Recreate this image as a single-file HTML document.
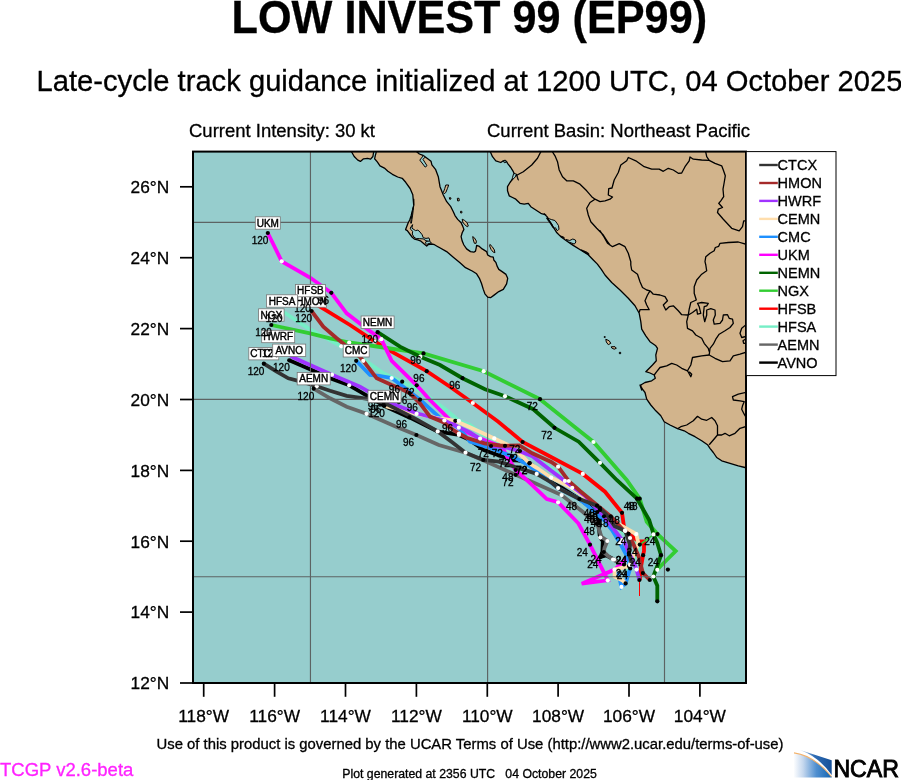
<!DOCTYPE html>
<html lang="en"><head><meta charset="utf-8"><title>LOW INVEST 99 (EP99)</title>
<style>
html,body{margin:0;padding:0;background:#fff;}
body{width:901px;height:780px;overflow:hidden;position:relative;font-family:"Liberation Sans",sans-serif;}
svg{position:absolute;left:0;top:0;}
text{font-family:"Liberation Sans",sans-serif;fill:#000;stroke:#000;stroke-width:0.3px;}
.t{position:absolute;white-space:nowrap;color:#000;line-height:1;}
</style></head><body>

<svg width="901" height="780" viewBox="0 0 901 780">
<defs><clipPath id="mc"><rect x="193.0" y="151.6" width="553.0" height="531.4"/></clipPath>
<linearGradient id="ng" x1="0" x2="1" y1="0" y2="0"><stop offset="0" stop-color="#ffffff"/><stop offset="0.25" stop-color="#c6d8ee"/><stop offset="0.6" stop-color="#4f8fd0"/><stop offset="1" stop-color="#1565b0"/></linearGradient>
<linearGradient id="ng2" x1="0" x2="1" y1="0" y2="0"><stop offset="0" stop-color="#c9dcf0"/><stop offset="0.45" stop-color="#2f6db5"/><stop offset="1" stop-color="#154f98"/></linearGradient>
</defs>
<rect x="193.0" y="151.6" width="553.0" height="531.4" fill="#96cdcd"/>
<g clip-path="url(#mc)">
<path d="M289.2 360.3 L310.0 369.2 L330.0 378.3 L349.2 385.3 L360.0 391.7 L384.4 406.0 L409.4 417.4 L437.5 431.4 L458.9 435.0 L468.8 439.4 L483.8 450.0 L506.2 458.0 L529.7 463.0 L551.2 482.3 L562.0 488.0 L579.4 499.0 L597.3 512.0 L598.2 518.5 L599.6 535.0 L600.3 537.6 L602.8 541.0 L602.4 551.7 L600.5 557.0 L606.0 555.4 L614.0 559.5 L620.0 562.7 L624.0 564.5" fill="none" stroke="#000000" stroke-width="3.8" stroke-linejoin="miter" stroke-linecap="butt"/>
<path d="M313.7 388.7 L330.0 398.3 L346.7 406.7 L366.6 413.8 L394.4 426.0 L416.4 435.0 L438.8 445.0 L465.5 452.7 L483.8 460.5 L515.7 474.8 L539.6 485.2 L561.6 495.1 L583.0 512.0 L592.2 520.3 L597.0 523.7 L601.5 536.9 L607.4 541.0 L604.5 548.0 L603.8 552.0 L608.0 556.0 L613.0 559.5 L620.0 563.5 L625.0 566.0" fill="none" stroke="#666666" stroke-width="3.8" stroke-linejoin="miter" stroke-linecap="butt"/>
<path d="M282.0 311.0 L308.3 328.3 L341.3 346.3 L366.7 361.7 L383.3 373.3 L402.2 381.7 L416.7 389.0 L430.0 398.0 L445.0 409.0 L458.8 420.8 L470.0 425.0 L482.0 434.0 L500.0 442.0 L520.0 451.0 L540.0 461.0 L555.0 471.0 L568.8 481.0 L580.0 490.0 L600.0 508.0 L618.0 528.0 L630.0 538.0 L639.8 544.6 L636.0 556.0 L630.0 565.0 L627.0 572.0" fill="none" stroke="#76eec6" stroke-width="3.8" stroke-linejoin="miter" stroke-linecap="butt"/>
<path d="M310.4 300.6 L320.0 306.7 L350.0 325.0 L375.0 341.7 L391.7 351.7 L426.7 371.2 L450.0 386.7 L472.8 403.0 L498.3 421.7 L522.6 442.0 L545.4 454.0 L582.8 473.9 L605.0 491.7 L622.0 512.8 L624.2 528.3 L625.0 530.4 L633.0 537.3 L638.8 541.3 L644.0 541.3 L644.0 551.1 L643.1 555.2 L641.1 566.1 L639.8 580.0" fill="none" stroke="#ff0000" stroke-width="3.8" stroke-linejoin="miter" stroke-linecap="butt"/>
<path d="M271.3 325.0 L310.0 333.3 L330.0 338.3 L349.2 342.5 L383.3 347.5 L423.5 353.4 L483.7 371.2 L540.0 399.2 L570.0 423.3 L593.5 442.0 L626.7 480.0 L639.7 498.7 L646.7 521.7 L657.5 534.1 L675.7 551.1 L660.7 566.0 L657.3 569.8" fill="none" stroke="#32cd32" stroke-width="3.8" stroke-linejoin="miter" stroke-linecap="butt"/>
<path d="M377.6 332.2 L400.0 346.7 L420.3 356.7 L440.0 365.0 L462.5 378.2 L485.0 389.2 L505.0 396.2 L533.3 409.2 L554.5 427.8 L578.7 441.7 L600.0 462.8 L616.7 480.0 L637.0 498.7 L649.2 520.0 L653.6 534.4 L657.3 543.0 L661.0 555.2 L657.3 566.0 L653.3 576.5 L657.3 585.7 L657.3 601.3" fill="none" stroke="#006400" stroke-width="3.8" stroke-linejoin="miter" stroke-linecap="butt"/>
<path d="M267.8 233.0 L281.7 261.3 L310.0 277.5 L331.3 292.8 L346.7 313.3 L366.7 328.7 L381.3 339.2 L391.7 360.8 L416.7 385.3 L430.0 400.0 L440.0 410.0 L458.0 428.0 L480.1 438.6 L501.9 446.8 L507.7 457.7 L515.7 470.0 L530.9 483.8 L546.8 499.0 L558.1 502.3 L578.3 523.3 L590.0 544.7 L607.8 580.3 L581.7 583.7 L614.6 569.6 L626.7 558.3" fill="none" stroke="#ff00ff" stroke-width="3.8" stroke-linejoin="miter" stroke-linecap="butt"/>
<path d="M356.2 360.8 L370.0 375.0 L379.2 375.8 L391.7 378.0 L403.3 386.7 L420.0 399.7 L440.0 418.0 L458.8 427.7 L470.0 441.7 L491.0 448.3 L512.0 456.2 L528.0 464.9 L545.4 478.0 L558.1 488.1 L579.4 499.0 L595.0 512.0 L604.0 520.0 L612.0 530.0 L620.0 543.0 L628.0 558.0 L630.2 568.4 L625.6 583.4 L621.5 586.9 L618.0 572.0" fill="none" stroke="#1e90ff" stroke-width="3.8" stroke-linejoin="miter" stroke-linecap="butt"/>
<path d="M384.4 406.0 L416.6 413.8 L440.0 418.5 L455.3 420.8 L470.0 427.2 L494.3 438.4 L508.0 445.0 L519.3 453.3 L529.4 463.3 L536.7 467.8 L551.2 477.7 L572.2 487.8 L585.9 498.3 L600.0 510.0 L620.0 525.0 L636.3 534.1 L638.3 543.0 L634.8 553.4 L629.0 566.1 L614.6 569.6 L614.6 576.5 L622.7 580.5 L625.6 583.4" fill="none" stroke="#ffdead" stroke-width="3.8" stroke-linejoin="miter" stroke-linecap="butt"/>
<path d="M278.2 346.5 L293.3 357.5 L332.0 374.7 L360.0 386.7 L381.0 399.0 L416.6 413.3 L444.4 420.5 L470.0 432.3 L491.0 446.0 L506.2 447.5 L519.0 451.0 L532.3 456.2 L551.2 470.7 L564.9 480.9 L585.0 496.0 L604.0 516.3 L610.0 524.3 L617.3 533.7 L622.0 540.0 L625.0 543.0 L629.0 553.4 L633.0 560.4 L636.5 569.6 L639.4 580.0" fill="none" stroke="#a033ff" stroke-width="3.8" stroke-linejoin="miter" stroke-linecap="butt"/>
<path d="M311.5 311.0 L323.3 326.7 L336.7 338.3 L345.0 345.0 L360.0 357.0 L363.3 360.8 L376.7 378.3 L391.7 385.0 L401.7 389.2 L409.5 393.0 L420.0 403.3 L430.0 416.6 L443.3 422.2 L453.3 430.0 L459.0 433.5 L466.6 437.7 L484.4 443.3 L500.0 445.5 L505.0 445.8 L519.3 445.4 L532.3 453.3 L551.2 462.0 L558.1 466.7 L568.6 480.9 L580.1 491.0 L597.5 505.5 L610.7 516.3 L623.3 530.0 L628.5 533.8 L633.0 543.0 L638.8 556.9 L642.9 573.1 L649.8 580.0" fill="none" stroke="#a52a2a" stroke-width="3.8" stroke-linejoin="miter" stroke-linecap="butt"/>
<path d="M263.8 363.7 L276.7 371.7 L288.3 378.3 L298.3 380.8 L316.7 386.2 L330.0 390.8 L346.7 395.8 L367.8 398.9 L383.6 402.5 L416.6 419.4 L437.7 431.4 L452.8 442.7 L465.5 452.7 L483.3 459.9 L498.8 461.6 L512.0 466.0 L530.0 471.6 L536.7 473.9 L551.2 482.3 L558.1 488.1 L579.4 499.0 L597.0 505.7 L606.7 515.0 L614.7 526.3 L625.3 531.0 L630.0 545.0 L629.0 553.0 L632.0 565.0" fill="none" stroke="#333333" stroke-width="3.8" stroke-linejoin="miter" stroke-linecap="butt"/>
<line x1="639.5" x2="639.5" y1="580" y2="596" stroke="#ff0000" stroke-width="1"/>
<line x1="639.8" x2="653" y1="544.6" y2="535" stroke="#32cd32" stroke-width="1.5"/>
<line x1="310.45" x2="310.45" y1="151.6" y2="683.0" stroke="#5c6363" stroke-width="1.15"/>
<line x1="487.60" x2="487.60" y1="151.6" y2="683.0" stroke="#5c6363" stroke-width="1.15"/>
<line x1="664.50" x2="664.50" y1="151.6" y2="683.0" stroke="#5c6363" stroke-width="1.15"/>
<line x1="193.0" x2="746.0" y1="222.30" y2="222.30" stroke="#5c6363" stroke-width="1.15"/>
<line x1="193.0" x2="746.0" y1="399.30" y2="399.30" stroke="#5c6363" stroke-width="1.15"/>
<line x1="193.0" x2="746.0" y1="576.70" y2="576.70" stroke="#5c6363" stroke-width="1.15"/>
<path d="M351.5 140.0 L351.5 151.7 L354.2 156.5 L357.8 160.1 L360.4 161.4 L363.5 158.8 L367.5 158.3 L370.6 159.2 L372.9 156.5 L373.7 151.7 L374.0 148.6 L376.2 148.6 L376.4 151.7 L375.3 155.7 L374.6 158.8 L377.3 161.9 L380.0 165.9 L384.4 168.1 L387.9 171.2 L392.4 174.3 L397.7 177.0 L402.2 178.3 L405.7 182.3 L410.1 188.5 L412.8 194.7 L413.7 205.0 L413.7 199.2 L413.9 204.9 L412.6 209.8 L411.2 215.5 L409.8 219.7 L408.0 223.2 L405.6 229.6 L407.3 230.6 L410.2 234.5 L412.3 237.3 L414.4 239.1 L417.6 239.8 L420.4 240.8 L423.9 243.7 L426.7 246.1 L428.1 244.7 L431.7 244.0 L434.5 244.7 L438.7 247.2 L438.9 247.2 L446.6 251.6 L453.3 257.2 L460.0 262.7 L465.5 267.7 L472.2 271.0 L476.6 273.8 L479.4 278.3 L481.6 283.8 L483.3 289.4 L484.9 293.8 L487.7 297.1 L490.5 297.7 L494.4 294.9 L498.8 291.6 L503.3 289.4 L506.6 283.8 L507.7 278.3 L506.0 274.4 L502.1 271.6 L498.8 269.4 L497.1 266.1 L496.0 262.7 L493.8 260.0 L493.3 257.2 L490.5 256.6 L487.7 255.0 L486.6 251.6 L482.2 248.9 L478.8 246.1 L476.6 245.5 L476.1 248.3 L475.5 251.1 L473.8 252.2 L470.5 251.6 L466.6 248.9 L463.9 245.0 L462.2 241.1 L461.1 236.6 L462.2 232.8 L463.9 229.4 L462.7 226.1 L461.1 222.8 L457.7 219.4 L455.0 215.6 L453.3 211.7 L450.8 206.7 L446.7 201.7 L443.3 195.0 L440.0 186.7 L438.3 176.7 L435.5 169.3 L431.9 164.8 L431.0 161.2 L427.4 158.5 L423.0 155.4 L419.4 154.0 L415.8 150.9 L416.0 140.0Z" fill="#d2b48c" stroke="#000" stroke-width="1.3" stroke-linejoin="round"/>
<path d="M490.3 140.0 L490.3 150.0 L490.3 151.7 L492.5 156.7 L495.8 160.8 L500.8 162.5 L503.3 160.8 L505.0 160.3 L506.7 161.7 L507.5 163.3 L510.8 167.5 L513.3 171.7 L515.0 175.0 L512.5 179.2 L510.0 182.5 L507.5 186.7 L507.5 190.8 L509.2 195.8 L512.5 197.5 L515.8 199.2 L520.0 203.3 L524.2 204.2 L528.3 203.3 L530.8 206.7 L535.8 210.0 L540.8 213.3 L545.8 215.0 L544.1 213.8 L547.2 216.9 L550.3 222.0 L553.3 227.2 L556.9 232.8 L560.5 236.4 L566.7 241.0 L572.8 245.1 L581.0 250.2 L588.2 254.8 L593.3 260.0 L597.4 264.1 L601.5 269.7 L605.0 275.0 L611.7 282.5 L620.0 290.0 L628.3 298.3 L635.0 305.8 L639.2 313.3 L640.8 321.7 L641.7 329.2 L645.8 335.8 L650.0 341.7 L655.8 345.8 L657.5 348.3 L655.8 355.0 L656.3 360.8 L652.5 365.0 L648.3 369.2 L645.8 371.7 L650.0 373.0 L654.2 375.0 L655.3 378.3 L651.7 380.8 L645.0 382.5 L640.8 385.0 L641.7 390.0 L640.0 385.0 L642.5 389.2 L645.0 392.5 L646.7 399.2 L650.8 405.0 L655.8 410.8 L660.8 415.8 L664.2 421.7 L670.0 425.0 L677.5 428.7 L684.2 430.8 L688.3 433.3 L695.0 436.7 L701.7 440.8 L707.5 444.7 L710.0 448.3 L713.3 452.5 L716.7 457.5 L721.7 460.8 L730.0 463.3 L738.3 465.8 L745.0 467.5 L753.3 469.2 L760.0 470.0 L760.0 140.0Z" fill="#d2b48c" stroke="#000" stroke-width="1.3" stroke-linejoin="round"/>
<path d="M423.4 155.6 L419.8 160.1 L425.2 167.1 L427.0 165.7 L423.0 159.4 L424.9 157.2Z" fill="#96cdcd" stroke="#000" stroke-width="1" stroke-linejoin="round"/>
<path d="M547.4 218.2 L551.3 219.5 L554.9 220.5 L556.9 223.1 L558.5 225.6 L559.0 229.2 L557.4 230.8 L555.4 227.7 L553.8 228.2 L552.3 225.1 L550.3 222.3Z" fill="#96cdcd" stroke="#000" stroke-width="1" stroke-linejoin="round"/>
<path d="M566.1 239.5 L569.7 240.5 L572.8 239.0 L575.4 240.0 L575.9 242.0 L574.3 244.1 L571.8 243.1 L568.7 242.0Z" fill="#96cdcd" stroke="#000" stroke-width="1" stroke-linejoin="round"/>
<path d="M503.4 160.8 L505.6 160.6 L506.4 162.1 L504.3 162.7Z" fill="#96cdcd" stroke="#000" stroke-width="1" stroke-linejoin="round"/>
<path d="M513.7 173.5 L516.6 174.1 L515.3 176.9 L511.9 180.3 L512.5 177.4Z" fill="#96cdcd" stroke="#000" stroke-width="1" stroke-linejoin="round"/>
<path d="M412.6 224.6 L411.9 228.1 L413.0 228.9 L415.5 230.6 L417.9 230.1 L420.0 232.0 L422.2 234.8 L423.2 237.7 L426.0 238.4 L428.9 237.9 L429.9 240.5 L428.5 241.5 L426.0 240.7 L423.2 238.9 L419.3 238.6 L416.2 238.6 L414.0 237.2 L412.3 234.1 L412.6 231.3 L410.9 229.6 L410.2 228.1 L411.6 226.0Z" fill="#96cdcd" stroke="#000" stroke-width="1" stroke-linejoin="round"/>
<path d="M413.5 206.3 L412.6 210.2 L411.9 214.7 L411.1 219.7 L410.7 223.2 L411.4 223.2 L411.9 219.7 L412.6 215.1 L413.2 210.2Z" fill="#96cdcd" stroke="#000" stroke-width="1" stroke-linejoin="round"/>
<path d="M426.0 241.4 L429.6 241.0 L431.3 243.0 L428.1 243.7 L426.9 244.6 L425.5 243.0Z" fill="#96cdcd" stroke="#000" stroke-width="1" stroke-linejoin="round"/>
<path d="M445.8 185.0 L448.7 185.0 L447.5 188.3 L445.8 192.5 L444.2 193.7 L443.3 192.5 L444.7 188.7Z" fill="#d2b48c" stroke="#000" stroke-width="1" stroke-linejoin="round"/>
<path d="M449.3 197.7 L450.7 197.7 L451.0 199.0 L449.7 199.3Z" fill="#d2b48c" stroke="#000" stroke-width="1" stroke-linejoin="round"/>
<path d="M457.3 198.3 L459.0 198.3 L459.3 200.7 L457.7 201.0Z" fill="#d2b48c" stroke="#000" stroke-width="1" stroke-linejoin="round"/>
<path d="M460.5 211.3 L461.8 211.3 L462.0 212.8 L460.7 213.0Z" fill="#d2b48c" stroke="#000" stroke-width="1" stroke-linejoin="round"/>
<path d="M462.2 219.2 L464.4 220.3 L467.2 222.8 L468.3 226.1 L467.2 226.7 L464.4 224.4 L462.7 221.9Z" fill="#d2b48c" stroke="#000" stroke-width="1" stroke-linejoin="round"/>
<path d="M472.7 236.6 L474.4 237.8 L476.4 241.1 L476.1 243.3 L474.4 243.3 L473.3 240.0Z" fill="#d2b48c" stroke="#000" stroke-width="1" stroke-linejoin="round"/>
<path d="M489.9 244.4 L492.2 246.6 L494.4 250.0 L494.9 252.7 L493.3 252.2 L491.0 249.4 L489.7 246.1Z" fill="#d2b48c" stroke="#000" stroke-width="1" stroke-linejoin="round"/>
<path d="M605.8 339.2 L609.2 340.8 L610.8 343.3 L608.3 344.7 L606.3 342.0Z" fill="#d2b48c" stroke="#000" stroke-width="1" stroke-linejoin="round"/>
<path d="M611.3 346.7 L615.0 346.7 L616.3 348.3 L614.2 349.2 L611.7 348.0Z" fill="#d2b48c" stroke="#000" stroke-width="1" stroke-linejoin="round"/>
<path d="M604.2 336.5 L605.2 336.5 L605.2 337.5 L604.2 337.5Z" fill="#000" stroke="#000" stroke-width="0.8" stroke-linejoin="round"/>
<path d="M619.3 352.3 L620.7 352.3 L620.7 353.7 L619.3 353.7Z" fill="#000" stroke="#000" stroke-width="0.8" stroke-linejoin="round"/>
<path d="M546.4 217.9 L548.7 219.5 L551.3 223.1 L553.8 227.7 L552.8 227.5 L550.3 223.6 L547.7 220.0Z" fill="#000" stroke="#000" stroke-width="0.8" stroke-linejoin="round"/>
<path d="M581.0 249.7 L585.1 251.3 L588.7 253.3 L589.0 254.8 L586.1 253.3 L582.0 250.7Z" fill="#000" stroke="#000" stroke-width="0.8" stroke-linejoin="round"/>
<path d="M560.0 235.9 L563.1 236.7 L564.6 238.1 L562.0 237.4Z" fill="#000" stroke="#000" stroke-width="0.8" stroke-linejoin="round"/>
<path d="M516.6 174.7 L517.5 176.9 L518.4 180.3 L517.3 177.8Z" fill="#000" stroke="#000" stroke-width="0.8" stroke-linejoin="round"/>
<path d="M515.8 175.8 L523.3 171.7 L531.7 165.0 L537.5 158.3 L541.7 150.0" fill="none" stroke="#000" stroke-width="1.3" stroke-linejoin="round"/>
<path d="M551.3 150.0 L555.0 155.8 L557.5 161.7 L559.2 170.0 L562.5 176.7 L566.7 180.8 L573.3 180.8 L580.0 184.2 L586.7 190.8 L591.7 196.7 L595.0 199.2 L600.0 201.7 L605.0 200.8 L610.0 199.2 L612.5 197.0 L608.3 195.0 L608.7 188.7 L612.0 188.0 L614.2 180.0 L618.3 172.5 L620.8 165.0 L626.7 160.8 L628.3 157.5 L635.8 160.8 L644.2 166.7 L651.7 169.2 L659.2 169.2 L663.3 171.3 L668.3 168.3 L673.3 170.0 L678.3 173.3 L681.7 173.0 L685.0 166.7 L689.2 160.8 L690.0 157.0 L693.3 159.2 L701.7 160.0 L709.2 160.3" fill="none" stroke="#000" stroke-width="1.3" stroke-linejoin="round"/>
<path d="M705.3 150.0 L706.7 156.7 L709.2 160.3 L715.0 163.3 L721.7 165.8 L723.3 170.0 L725.3 175.8 L724.2 182.5 L723.0 189.2 L723.7 196.7 L720.8 200.8 L718.7 203.3 L722.5 207.5 L718.3 209.2 L717.5 212.5 L723.3 219.2 L731.7 228.3 L739.2 230.8 L742.5 226.7 L743.7 220.8 L746.7 220.8" fill="none" stroke="#000" stroke-width="1.3" stroke-linejoin="round"/>
<path d="M746.7 244.5 L738.3 242.0 L728.3 242.5 L720.0 243.3 L718.7 246.3 L715.3 247.5 L714.2 250.8 L710.0 253.3 L705.8 256.7 L705.0 261.7 L705.8 265.0 L705.8 265.0 L706.7 270.8 L701.7 274.2 L696.7 280.0 L694.2 286.7 L694.2 293.3 L696.3 300.0 L690.8 302.5 L689.2 309.2 L688.3 315.0" fill="none" stroke="#000" stroke-width="1.3" stroke-linejoin="round"/>
<path d="M595.0 199.2 L590.0 202.5 L586.7 208.3 L588.3 215.0 L590.8 221.7 L596.7 228.3 L603.3 235.0 L607.5 241.7 L610.0 245.0 L600.0 230.8 L603.3 235.8 L607.5 243.3 L612.5 246.7 L619.2 243.7 L625.0 246.7 L628.3 253.3 L630.8 261.7 L630.8 265.0 L630.8 265.0 L631.7 270.0 L637.5 274.2 L640.0 281.7 L642.5 287.5 L646.7 290.0 L650.0 290.8" fill="none" stroke="#000" stroke-width="1.3" stroke-linejoin="round"/>
<path d="M650.0 290.8 L647.5 295.0 L645.0 300.8 L646.7 305.0 L649.2 309.7 L640.0 309.7 L639.2 312.5" fill="none" stroke="#000" stroke-width="1.3" stroke-linejoin="round"/>
<path d="M650.0 290.8 L653.3 294.2 L660.0 295.0 L665.0 296.7 L667.5 300.8 L663.3 305.0 L665.8 310.0 L669.2 306.7 L673.3 305.8 L678.3 310.8 L681.7 314.7 L688.3 315.0" fill="none" stroke="#000" stroke-width="1.3" stroke-linejoin="round"/>
<path d="M688.3 315.0 L692.5 312.5 L696.7 309.2 L697.5 314.2 L700.8 313.3 L699.2 306.7 L697.5 303.3 L701.7 302.5 L708.3 303.3 L706.7 305.8 L704.2 306.7 L703.3 315.0 L704.7 321.7 L706.7 315.0 L706.7 310.0 L710.8 308.7 L715.0 310.0 L715.3 315.0 L713.3 320.0 L714.2 324.2 L720.0 323.3 L722.5 320.0 L723.3 315.0 L727.5 314.7 L729.2 318.3 L732.5 319.2 L733.3 323.3 L730.0 327.5 L725.0 330.8 L719.2 334.2 L715.8 339.2 L713.3 344.2 L710.0 348.3 L709.2 355.0" fill="none" stroke="#000" stroke-width="1.3" stroke-linejoin="round"/>
<path d="M688.3 315.0 L686.7 321.7 L687.5 328.3 L692.5 330.8 L695.8 335.0 L701.7 338.3 L704.2 343.3 L708.3 348.3 L709.2 351.7" fill="none" stroke="#000" stroke-width="1.3" stroke-linejoin="round"/>
<path d="M709.2 355.0 L701.7 355.8 L692.5 357.5 L690.8 365.0 L687.5 370.8 L681.7 368.3 L676.7 365.0 L671.7 363.3 L666.7 365.8 L660.0 367.5 L656.7 371.7 L654.2 375.0" fill="none" stroke="#000" stroke-width="1.3" stroke-linejoin="round"/>
<path d="M687.5 370.8 L690.8 376.7 L691.7 374.2 L689.2 371.7" fill="none" stroke="#000" stroke-width="1.3" stroke-linejoin="round"/>
<path d="M709.2 355.0 L715.0 358.3 L722.5 361.7 L730.0 360.8 L733.3 355.8 L740.0 354.2 L746.7 352.0" fill="none" stroke="#000" stroke-width="1.3" stroke-linejoin="round"/>
<path d="M746.7 324.2 L741.7 328.3 L740.0 333.3 L741.7 337.5 L746.7 336.3" fill="none" stroke="#000" stroke-width="1.3" stroke-linejoin="round"/>
<path d="M746.7 338.3 L743.0 340.8 L743.7 343.3 L746.7 343.3" fill="none" stroke="#000" stroke-width="1.3" stroke-linejoin="round"/>
<path d="M677.5 428.7 L680.8 426.7 L686.7 425.0 L693.3 420.8 L697.5 416.3 L701.7 419.2 L706.7 420.3 L711.7 417.5 L715.0 420.8 L717.5 425.8 L717.5 435.0 L713.3 440.0 L709.2 444.7" fill="none" stroke="#000" stroke-width="1.3" stroke-linejoin="round"/>
<path d="M717.5 435.0 L721.7 435.0 L725.0 433.3 L729.2 435.8 L735.0 433.3 L740.0 428.3 L746.7 426.3" fill="none" stroke="#000" stroke-width="1.3" stroke-linejoin="round"/>
<path d="M746.7 392.2 L738.3 394.2 L732.5 396.7 L733.3 400.0 L740.0 400.8 L744.2 401.7 L742.5 405.8 L741.7 409.2 L744.2 414.2 L746.7 418.3" fill="none" stroke="#000" stroke-width="1.3" stroke-linejoin="round"/>
<circle cx="263.8" cy="363.7" r="2.1" fill="#000"/>
<circle cx="316.7" cy="386.2" r="2.1" fill="#fff"/>
<circle cx="383.6" cy="402.5" r="2.1" fill="#000"/>
<circle cx="437.7" cy="431.4" r="2.1" fill="#fff"/>
<circle cx="483.3" cy="459.9" r="2.1" fill="#000"/>
<circle cx="536.7" cy="473.9" r="2.1" fill="#fff"/>
<circle cx="597.0" cy="505.7" r="2.1" fill="#000"/>
<circle cx="625.3" cy="531.0" r="2.1" fill="#fff"/>
<circle cx="629.0" cy="553.0" r="2.1" fill="#000"/>
<circle cx="311.5" cy="311.0" r="2.1" fill="#000"/>
<circle cx="363.3" cy="360.8" r="2.1" fill="#fff"/>
<circle cx="409.5" cy="393.0" r="2.1" fill="#000"/>
<circle cx="459.0" cy="433.5" r="2.1" fill="#fff"/>
<circle cx="505.0" cy="445.8" r="2.1" fill="#000"/>
<circle cx="558.1" cy="466.7" r="2.1" fill="#fff"/>
<circle cx="610.7" cy="516.3" r="2.1" fill="#000"/>
<circle cx="628.5" cy="533.8" r="2.1" fill="#000"/>
<circle cx="642.9" cy="573.1" r="2.1" fill="#000"/>
<circle cx="649.8" cy="580.0" r="2.1" fill="#000"/>
<circle cx="278.2" cy="346.5" r="2.1" fill="#000"/>
<circle cx="332.0" cy="374.7" r="2.1" fill="#fff"/>
<circle cx="381.0" cy="399.0" r="2.1" fill="#000"/>
<circle cx="444.4" cy="420.5" r="2.1" fill="#fff"/>
<circle cx="491.0" cy="446.0" r="2.1" fill="#000"/>
<circle cx="564.9" cy="480.9" r="2.1" fill="#fff"/>
<circle cx="604.0" cy="516.3" r="2.1" fill="#000"/>
<circle cx="622.0" cy="540.0" r="2.1" fill="#fff"/>
<circle cx="629.0" cy="553.4" r="2.1" fill="#000"/>
<circle cx="636.5" cy="569.6" r="2.1" fill="#fff"/>
<circle cx="639.4" cy="580.0" r="2.1" fill="#000"/>
<circle cx="384.4" cy="406.0" r="2.1" fill="#000"/>
<circle cx="416.6" cy="413.8" r="2.1" fill="#fff"/>
<circle cx="455.3" cy="420.8" r="2.1" fill="#000"/>
<circle cx="494.3" cy="438.4" r="2.1" fill="#fff"/>
<circle cx="529.4" cy="463.3" r="2.1" fill="#000"/>
<circle cx="551.2" cy="477.7" r="2.1" fill="#fff"/>
<circle cx="572.2" cy="487.8" r="2.1" fill="#fff"/>
<circle cx="600.0" cy="510.0" r="2.1" fill="#000"/>
<circle cx="636.3" cy="534.1" r="2.1" fill="#fff"/>
<circle cx="629.0" cy="566.1" r="2.1" fill="#000"/>
<circle cx="614.6" cy="569.6" r="2.1" fill="#fff"/>
<circle cx="625.6" cy="583.4" r="2.1" fill="#000"/>
<circle cx="356.2" cy="360.8" r="2.1" fill="#000"/>
<circle cx="391.7" cy="378.0" r="2.1" fill="#fff"/>
<circle cx="420.0" cy="399.7" r="2.1" fill="#000"/>
<circle cx="458.8" cy="427.7" r="2.1" fill="#fff"/>
<circle cx="512.0" cy="456.2" r="2.1" fill="#000"/>
<circle cx="558.1" cy="488.1" r="2.1" fill="#fff"/>
<circle cx="579.4" cy="499.0" r="2.1" fill="#000"/>
<circle cx="620.0" cy="543.0" r="2.1" fill="#fff"/>
<circle cx="630.2" cy="568.4" r="2.1" fill="#000"/>
<circle cx="621.5" cy="586.9" r="2.1" fill="#fff"/>
<circle cx="267.8" cy="233.0" r="2.1" fill="#000"/>
<circle cx="281.7" cy="261.3" r="2.1" fill="#fff"/>
<circle cx="331.3" cy="292.8" r="2.1" fill="#000"/>
<circle cx="381.3" cy="339.2" r="2.1" fill="#fff"/>
<circle cx="416.7" cy="385.3" r="2.1" fill="#000"/>
<circle cx="480.1" cy="438.6" r="2.1" fill="#fff"/>
<circle cx="515.7" cy="470.0" r="2.1" fill="#000"/>
<circle cx="558.1" cy="502.3" r="2.1" fill="#fff"/>
<circle cx="590.0" cy="544.7" r="2.1" fill="#000"/>
<circle cx="607.8" cy="580.3" r="2.1" fill="#fff"/>
<circle cx="377.6" cy="332.2" r="2.1" fill="#000"/>
<circle cx="420.3" cy="356.7" r="2.1" fill="#fff"/>
<circle cx="462.5" cy="378.2" r="2.1" fill="#000"/>
<circle cx="505.0" cy="396.2" r="2.1" fill="#fff"/>
<circle cx="554.5" cy="427.8" r="2.1" fill="#000"/>
<circle cx="600.0" cy="462.8" r="2.1" fill="#fff"/>
<circle cx="637.0" cy="498.7" r="2.1" fill="#000"/>
<circle cx="653.6" cy="534.4" r="2.1" fill="#fff"/>
<circle cx="661.0" cy="555.2" r="2.1" fill="#000"/>
<circle cx="653.3" cy="576.5" r="2.1" fill="#fff"/>
<circle cx="657.3" cy="601.3" r="2.1" fill="#000"/>
<circle cx="271.3" cy="325.0" r="2.1" fill="#000"/>
<circle cx="349.2" cy="342.5" r="2.1" fill="#fff"/>
<circle cx="423.5" cy="353.4" r="2.1" fill="#000"/>
<circle cx="483.7" cy="371.2" r="2.1" fill="#fff"/>
<circle cx="540.0" cy="399.2" r="2.1" fill="#000"/>
<circle cx="593.5" cy="442.0" r="2.1" fill="#fff"/>
<circle cx="639.7" cy="498.7" r="2.1" fill="#000"/>
<circle cx="657.5" cy="534.1" r="2.1" fill="#000"/>
<circle cx="657.3" cy="569.8" r="2.1" fill="#fff"/>
<circle cx="310.4" cy="300.6" r="2.1" fill="#000"/>
<circle cx="375.0" cy="341.7" r="2.1" fill="#fff"/>
<circle cx="426.7" cy="371.2" r="2.1" fill="#000"/>
<circle cx="472.8" cy="403.0" r="2.1" fill="#fff"/>
<circle cx="522.6" cy="442.0" r="2.1" fill="#000"/>
<circle cx="582.8" cy="473.9" r="2.1" fill="#fff"/>
<circle cx="622.0" cy="512.8" r="2.1" fill="#000"/>
<circle cx="625.0" cy="530.4" r="2.1" fill="#fff"/>
<circle cx="643.1" cy="555.2" r="2.1" fill="#000"/>
<circle cx="282.0" cy="311.0" r="2.1" fill="#000"/>
<circle cx="341.3" cy="346.3" r="2.1" fill="#fff"/>
<circle cx="402.2" cy="381.7" r="2.1" fill="#000"/>
<circle cx="458.8" cy="420.8" r="2.1" fill="#fff"/>
<circle cx="520.0" cy="451.0" r="2.1" fill="#000"/>
<circle cx="568.8" cy="481.0" r="2.1" fill="#fff"/>
<circle cx="600.0" cy="508.0" r="2.1" fill="#000"/>
<circle cx="630.0" cy="538.0" r="2.1" fill="#fff"/>
<circle cx="639.8" cy="544.6" r="2.1" fill="#000"/>
<circle cx="630.0" cy="565.0" r="2.1" fill="#fff"/>
<circle cx="313.7" cy="388.7" r="2.1" fill="#000"/>
<circle cx="366.6" cy="413.8" r="2.1" fill="#fff"/>
<circle cx="416.4" cy="435.0" r="2.1" fill="#000"/>
<circle cx="465.5" cy="452.7" r="2.1" fill="#fff"/>
<circle cx="515.7" cy="474.8" r="2.1" fill="#000"/>
<circle cx="561.6" cy="495.1" r="2.1" fill="#fff"/>
<circle cx="597.0" cy="523.7" r="2.1" fill="#000"/>
<circle cx="607.4" cy="541.0" r="2.1" fill="#fff"/>
<circle cx="603.8" cy="552.0" r="2.1" fill="#000"/>
<circle cx="613.0" cy="559.5" r="2.1" fill="#fff"/>
<circle cx="289.2" cy="360.3" r="2.1" fill="#000"/>
<circle cx="349.2" cy="385.3" r="2.1" fill="#fff"/>
<circle cx="409.4" cy="417.4" r="2.1" fill="#000"/>
<circle cx="458.9" cy="435.0" r="2.1" fill="#fff"/>
<circle cx="529.7" cy="463.0" r="2.1" fill="#000"/>
<circle cx="597.3" cy="512.0" r="2.1" fill="#000"/>
<circle cx="600.3" cy="537.6" r="2.1" fill="#fff"/>
<circle cx="600.5" cy="557.0" r="2.1" fill="#000"/>
<circle cx="614.0" cy="559.5" r="2.1" fill="#fff"/>
<circle cx="624.0" cy="564.5" r="2.1" fill="#000"/>
<circle cx="667.9" cy="569.6" r="2.1" fill="#000"/>
<text x="256.0" y="374.6" font-size="10" text-anchor="middle" style="stroke-width:0.3px">120</text>
<text x="375.8" y="413.4" font-size="10" text-anchor="middle" style="stroke-width:0.3px">96</text>
<text x="475.5" y="470.8" font-size="10" text-anchor="middle" style="stroke-width:0.3px">72</text>
<text x="589.2" y="516.6" font-size="10" text-anchor="middle" style="stroke-width:0.3px">48</text>
<text x="621.2" y="563.9" font-size="10" text-anchor="middle" style="stroke-width:0.3px">24</text>
<rect x="248.8" y="347.5" width="30.0" height="12.4" fill="#fff" stroke="#777" stroke-width="0.8"/>
<text x="263.8" y="357.3" font-size="10" text-anchor="middle" style="stroke-width:0.4px">CTCX</text>
<text x="303.7" y="321.9" font-size="10" text-anchor="middle" style="stroke-width:0.3px">120</text>
<text x="401.7" y="403.9" font-size="10" text-anchor="middle" style="stroke-width:0.3px">96</text>
<text x="497.2" y="456.7" font-size="10" text-anchor="middle" style="stroke-width:0.3px">72</text>
<text x="602.9" y="527.2" font-size="10" text-anchor="middle" style="stroke-width:0.3px">48</text>
<text x="620.7" y="544.7" font-size="10" text-anchor="middle" style="stroke-width:0.3px">24</text>
<rect x="296.5" y="294.8" width="30.0" height="12.4" fill="#fff" stroke="#777" stroke-width="0.8"/>
<text x="311.5" y="304.6" font-size="10" text-anchor="middle" style="stroke-width:0.4px">HMON</text>
<text x="270.4" y="357.4" font-size="10" text-anchor="middle" style="stroke-width:0.3px">120</text>
<text x="373.2" y="409.9" font-size="10" text-anchor="middle" style="stroke-width:0.3px">96</text>
<text x="483.2" y="456.9" font-size="10" text-anchor="middle" style="stroke-width:0.3px">72</text>
<text x="596.2" y="527.2" font-size="10" text-anchor="middle" style="stroke-width:0.3px">48</text>
<text x="621.2" y="564.3" font-size="10" text-anchor="middle" style="stroke-width:0.3px">24</text>
<rect x="261.7" y="330.3" width="33.0" height="12.4" fill="#fff" stroke="#777" stroke-width="0.8"/>
<text x="278.2" y="340.1" font-size="10" text-anchor="middle" style="stroke-width:0.4px">HWRF</text>
<text x="376.6" y="416.9" font-size="10" text-anchor="middle" style="stroke-width:0.3px">120</text>
<text x="447.5" y="431.7" font-size="10" text-anchor="middle" style="stroke-width:0.3px">96</text>
<text x="521.6" y="474.2" font-size="10" text-anchor="middle" style="stroke-width:0.3px">72</text>
<text x="592.2" y="520.9" font-size="10" text-anchor="middle" style="stroke-width:0.3px">48</text>
<text x="621.2" y="577.0" font-size="10" text-anchor="middle" style="stroke-width:0.3px">24</text>
<rect x="368.0" y="390.3" width="33.0" height="12.4" fill="#fff" stroke="#777" stroke-width="0.8"/>
<text x="384.5" y="400.1" font-size="10" text-anchor="middle" style="stroke-width:0.4px">CEMN</text>
<text x="348.4" y="371.7" font-size="10" text-anchor="middle" style="stroke-width:0.3px">120</text>
<text x="412.2" y="410.6" font-size="10" text-anchor="middle" style="stroke-width:0.3px">96</text>
<text x="504.2" y="467.1" font-size="10" text-anchor="middle" style="stroke-width:0.3px">72</text>
<text x="571.6" y="509.9" font-size="10" text-anchor="middle" style="stroke-width:0.3px">48</text>
<text x="622.4" y="579.3" font-size="10" text-anchor="middle" style="stroke-width:0.3px">24</text>
<rect x="343.2" y="344.6" width="26.0" height="12.4" fill="#fff" stroke="#777" stroke-width="0.8"/>
<text x="356.2" y="354.4" font-size="10" text-anchor="middle" style="stroke-width:0.4px">CMC</text>
<text x="260.0" y="243.9" font-size="10" text-anchor="middle" style="stroke-width:0.3px">120</text>
<text x="323.5" y="303.7" font-size="10" text-anchor="middle" style="stroke-width:0.3px">96</text>
<text x="408.9" y="396.2" font-size="10" text-anchor="middle" style="stroke-width:0.3px">72</text>
<text x="507.9" y="480.9" font-size="10" text-anchor="middle" style="stroke-width:0.3px">48</text>
<text x="582.2" y="555.6" font-size="10" text-anchor="middle" style="stroke-width:0.3px">24</text>
<rect x="255.3" y="216.8" width="25.0" height="12.4" fill="#fff" stroke="#777" stroke-width="0.8"/>
<text x="267.8" y="226.6" font-size="10" text-anchor="middle" style="stroke-width:0.4px">UKM</text>
<text x="369.8" y="343.1" font-size="10" text-anchor="middle" style="stroke-width:0.3px">120</text>
<text x="454.7" y="389.1" font-size="10" text-anchor="middle" style="stroke-width:0.3px">96</text>
<text x="546.7" y="438.7" font-size="10" text-anchor="middle" style="stroke-width:0.3px">72</text>
<text x="629.2" y="509.6" font-size="10" text-anchor="middle" style="stroke-width:0.3px">48</text>
<text x="653.2" y="566.1" font-size="10" text-anchor="middle" style="stroke-width:0.3px">24</text>
<rect x="361.1" y="316.0" width="33.0" height="12.4" fill="#fff" stroke="#777" stroke-width="0.8"/>
<text x="377.6" y="325.8" font-size="10" text-anchor="middle" style="stroke-width:0.4px">NEMN</text>
<text x="263.5" y="335.9" font-size="10" text-anchor="middle" style="stroke-width:0.3px">120</text>
<text x="415.7" y="364.3" font-size="10" text-anchor="middle" style="stroke-width:0.3px">96</text>
<text x="532.2" y="410.1" font-size="10" text-anchor="middle" style="stroke-width:0.3px">72</text>
<text x="631.9" y="509.6" font-size="10" text-anchor="middle" style="stroke-width:0.3px">48</text>
<text x="649.7" y="545.0" font-size="10" text-anchor="middle" style="stroke-width:0.3px">24</text>
<rect x="258.6" y="308.8" width="25.5" height="12.4" fill="#fff" stroke="#777" stroke-width="0.8"/>
<text x="271.3" y="318.6" font-size="10" text-anchor="middle" style="stroke-width:0.4px">NGX</text>
<text x="302.6" y="311.5" font-size="10" text-anchor="middle" style="stroke-width:0.3px">120</text>
<text x="418.9" y="382.1" font-size="10" text-anchor="middle" style="stroke-width:0.3px">96</text>
<text x="514.8" y="452.9" font-size="10" text-anchor="middle" style="stroke-width:0.3px">72</text>
<text x="614.2" y="523.7" font-size="10" text-anchor="middle" style="stroke-width:0.3px">48</text>
<text x="635.3" y="566.1" font-size="10" text-anchor="middle" style="stroke-width:0.3px">24</text>
<rect x="295.4" y="284.4" width="30.0" height="12.4" fill="#fff" stroke="#777" stroke-width="0.8"/>
<text x="310.4" y="294.2" font-size="10" text-anchor="middle" style="stroke-width:0.4px">HFSB</text>
<text x="274.2" y="321.9" font-size="10" text-anchor="middle" style="stroke-width:0.3px">120</text>
<text x="394.4" y="392.6" font-size="10" text-anchor="middle" style="stroke-width:0.3px">96</text>
<text x="512.2" y="461.9" font-size="10" text-anchor="middle" style="stroke-width:0.3px">72</text>
<text x="592.2" y="518.9" font-size="10" text-anchor="middle" style="stroke-width:0.3px">48</text>
<text x="632.0" y="555.5" font-size="10" text-anchor="middle" style="stroke-width:0.3px">24</text>
<rect x="266.5" y="294.8" width="31.0" height="12.4" fill="#fff" stroke="#777" stroke-width="0.8"/>
<text x="282.0" y="304.6" font-size="10" text-anchor="middle" style="stroke-width:0.4px">HFSA</text>
<text x="305.9" y="399.6" font-size="10" text-anchor="middle" style="stroke-width:0.3px">120</text>
<text x="408.6" y="445.9" font-size="10" text-anchor="middle" style="stroke-width:0.3px">96</text>
<text x="507.9" y="485.7" font-size="10" text-anchor="middle" style="stroke-width:0.3px">72</text>
<text x="589.2" y="534.6" font-size="10" text-anchor="middle" style="stroke-width:0.3px">48</text>
<text x="596.0" y="562.9" font-size="10" text-anchor="middle" style="stroke-width:0.3px">24</text>
<rect x="297.2" y="372.5" width="33.0" height="12.4" fill="#fff" stroke="#777" stroke-width="0.8"/>
<text x="313.7" y="382.3" font-size="10" text-anchor="middle" style="stroke-width:0.4px">AEMN</text>
<text x="281.4" y="371.2" font-size="10" text-anchor="middle" style="stroke-width:0.3px">120</text>
<text x="401.6" y="428.3" font-size="10" text-anchor="middle" style="stroke-width:0.3px">96</text>
<text x="521.9" y="473.9" font-size="10" text-anchor="middle" style="stroke-width:0.3px">72</text>
<text x="589.5" y="522.9" font-size="10" text-anchor="middle" style="stroke-width:0.3px">48</text>
<text x="592.7" y="567.9" font-size="10" text-anchor="middle" style="stroke-width:0.3px">24</text>
<rect x="272.7" y="344.1" width="33.0" height="12.4" fill="#fff" stroke="#777" stroke-width="0.8"/>
<text x="289.2" y="353.9" font-size="10" text-anchor="middle" style="stroke-width:0.4px">AVNO</text>
</g>
<rect x="193.0" y="151.6" width="553.0" height="531.4" fill="none" stroke="#000" stroke-width="2"/>
<line x1="180" x2="193.0" y1="683.0" y2="683.0" stroke="#000" stroke-width="1.7"/>
<text x="169.2" y="689.3" font-size="17.3" text-anchor="end">12°N</text>
<line x1="180" x2="193.0" y1="612.1" y2="612.1" stroke="#000" stroke-width="1.7"/>
<text x="169.2" y="618.4" font-size="17.3" text-anchor="end">14°N</text>
<line x1="180" x2="193.0" y1="541.2" y2="541.2" stroke="#000" stroke-width="1.7"/>
<text x="169.2" y="547.5" font-size="17.3" text-anchor="end">16°N</text>
<line x1="180" x2="193.0" y1="470.4" y2="470.4" stroke="#000" stroke-width="1.7"/>
<text x="169.2" y="476.7" font-size="17.3" text-anchor="end">18°N</text>
<line x1="180" x2="193.0" y1="399.5" y2="399.5" stroke="#000" stroke-width="1.7"/>
<text x="169.2" y="405.8" font-size="17.3" text-anchor="end">20°N</text>
<line x1="180" x2="193.0" y1="328.6" y2="328.6" stroke="#000" stroke-width="1.7"/>
<text x="169.2" y="334.9" font-size="17.3" text-anchor="end">22°N</text>
<line x1="180" x2="193.0" y1="257.7" y2="257.7" stroke="#000" stroke-width="1.7"/>
<text x="169.2" y="264.0" font-size="17.3" text-anchor="end">24°N</text>
<line x1="180" x2="193.0" y1="186.8" y2="186.8" stroke="#000" stroke-width="1.7"/>
<text x="169.2" y="193.1" font-size="17.3" text-anchor="end">26°N</text>
<line x1="203.7" x2="203.7" y1="683.0" y2="696.8" stroke="#000" stroke-width="1.7"/>
<text x="203.7" y="721.6" font-size="17.3" text-anchor="middle">118°W</text>
<line x1="274.6" x2="274.6" y1="683.0" y2="696.8" stroke="#000" stroke-width="1.7"/>
<text x="274.6" y="721.6" font-size="17.3" text-anchor="middle">116°W</text>
<line x1="345.5" x2="345.5" y1="683.0" y2="696.8" stroke="#000" stroke-width="1.7"/>
<text x="345.5" y="721.6" font-size="17.3" text-anchor="middle">114°W</text>
<line x1="416.4" x2="416.4" y1="683.0" y2="696.8" stroke="#000" stroke-width="1.7"/>
<text x="416.4" y="721.6" font-size="17.3" text-anchor="middle">112°W</text>
<line x1="487.3" x2="487.3" y1="683.0" y2="696.8" stroke="#000" stroke-width="1.7"/>
<text x="487.3" y="721.6" font-size="17.3" text-anchor="middle">110°W</text>
<line x1="558.1" x2="558.1" y1="683.0" y2="696.8" stroke="#000" stroke-width="1.7"/>
<text x="558.1" y="721.6" font-size="17.3" text-anchor="middle">108°W</text>
<line x1="629.0" x2="629.0" y1="683.0" y2="696.8" stroke="#000" stroke-width="1.7"/>
<text x="629.0" y="721.6" font-size="17.3" text-anchor="middle">106°W</text>
<line x1="699.9" x2="699.9" y1="683.0" y2="696.8" stroke="#000" stroke-width="1.7"/>
<text x="699.9" y="721.6" font-size="17.3" text-anchor="middle">104°W</text>
<rect x="746.2" y="151.6" width="89.8" height="224" fill="#fff" stroke="#000" stroke-width="1"/>
<line x1="759.2" x2="777.8" y1="165.0" y2="165.0" stroke="#333333" stroke-width="2.4" stroke-linecap="butt"/>
<text x="777.6" y="170.1" font-size="14.5">CTCX</text>
<line x1="759.2" x2="777.8" y1="183.0" y2="183.0" stroke="#a52a2a" stroke-width="2.4" stroke-linecap="butt"/>
<text x="777.6" y="188.1" font-size="14.5">HMON</text>
<line x1="759.2" x2="777.8" y1="200.9" y2="200.9" stroke="#a033ff" stroke-width="2.4" stroke-linecap="butt"/>
<text x="777.6" y="206.0" font-size="14.5">HWRF</text>
<line x1="759.2" x2="777.8" y1="218.9" y2="218.9" stroke="#ffdead" stroke-width="2.4" stroke-linecap="butt"/>
<text x="777.6" y="224.0" font-size="14.5">CEMN</text>
<line x1="759.2" x2="777.8" y1="236.8" y2="236.8" stroke="#1e90ff" stroke-width="2.4" stroke-linecap="butt"/>
<text x="777.6" y="241.9" font-size="14.5">CMC</text>
<line x1="759.2" x2="777.8" y1="254.8" y2="254.8" stroke="#ff00ff" stroke-width="2.4" stroke-linecap="butt"/>
<text x="777.6" y="259.9" font-size="14.5">UKM</text>
<line x1="759.2" x2="777.8" y1="272.8" y2="272.8" stroke="#006400" stroke-width="2.4" stroke-linecap="butt"/>
<text x="777.6" y="277.9" font-size="14.5">NEMN</text>
<line x1="759.2" x2="777.8" y1="290.7" y2="290.7" stroke="#32cd32" stroke-width="2.4" stroke-linecap="butt"/>
<text x="777.6" y="295.8" font-size="14.5">NGX</text>
<line x1="759.2" x2="777.8" y1="308.7" y2="308.7" stroke="#ff0000" stroke-width="2.4" stroke-linecap="butt"/>
<text x="777.6" y="313.8" font-size="14.5">HFSB</text>
<line x1="759.2" x2="777.8" y1="326.6" y2="326.6" stroke="#76eec6" stroke-width="2.4" stroke-linecap="butt"/>
<text x="777.6" y="331.7" font-size="14.5">HFSA</text>
<line x1="759.2" x2="777.8" y1="344.6" y2="344.6" stroke="#666666" stroke-width="2.4" stroke-linecap="butt"/>
<text x="777.6" y="349.7" font-size="14.5">AEMN</text>
<line x1="759.2" x2="777.8" y1="362.6" y2="362.6" stroke="#000000" stroke-width="2.4" stroke-linecap="butt"/>
<text x="777.6" y="367.7" font-size="14.5">AVNO</text>
<text x="231.6" y="32.8" font-size="45.5" font-weight="bold" textLength="475.5" lengthAdjust="spacingAndGlyphs">LOW INVEST 99 (EP99)</text>
<text x="36.5" y="90.7" font-size="29.8" textLength="866" lengthAdjust="spacingAndGlyphs">Late-cycle track guidance initialized at 1200 UTC, 04 October 2025</text>
<text x="189" y="137.3" font-size="18.4" textLength="186" lengthAdjust="spacingAndGlyphs">Current Intensity: 30 kt</text>
<text x="487" y="137.3" font-size="18.4" textLength="263" lengthAdjust="spacingAndGlyphs">Current Basin: Northeast Pacific</text>
<text x="156.5" y="749.2" font-size="14.9" textLength="627" lengthAdjust="spacingAndGlyphs">Use of this product is governed by the UCAR Terms of Use (http://www2.ucar.edu/terms-of-use)</text>
<text x="0" y="776" font-size="18.5" style="fill:#ff22ff;stroke:#ff22ff">TCGP v2.6-beta</text>
<text x="342.3" y="777.6" font-size="12" style="white-space:pre" textLength="254.5" lengthAdjust="spacingAndGlyphs">Plot generated at 2356 UTC   04 October 2025</text>
<path d="M793.4 777.6 L793.4 752.8 Q 814 755.5 831.7 776.5 L831.7 777.6 Z" fill="url(#ng)"/>
<path d="M800 750 L831.7 760.2 L831.7 775 Q 819 757 800 750Z" fill="url(#ng2)"/>
<path d="M794 752.9 Q 814 755.5 831.5 776.6" fill="none" stroke="#f4b26a" stroke-width="1.1"/>
<text x="833.4" y="777.4" font-size="24" textLength="65.6" lengthAdjust="spacingAndGlyphs" style="stroke-width:0.9px">NCAR</text>
</svg></body></html>
